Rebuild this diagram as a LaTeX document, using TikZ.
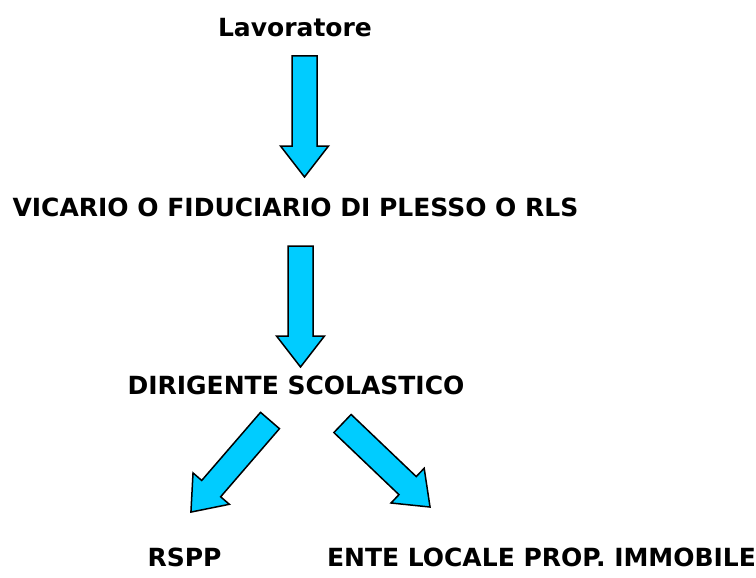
\documentclass[tikz,border=0pt]{standalone}
\usepackage{fontspec}
\setmainfont{DejaVu Sans}
\usepackage{tikz}
\usetikzlibrary{calc}

\definecolor{arrowblue}{HTML}{00CCFF}

\tikzset{
	label text/.style={font=\bfseries\fontsize{25}{28}\selectfont, inner sep=0pt},
	bigarrow/.pic={
		\draw [fill=arrowblue, line width=1.5pt, line join=miter]
		(0,-12.5) -- (90,-12.5) -- (90,-24) -- (121,0) -- (90,24) -- (90,12.5) -- (0,12.5) -- cycle;
	}
}

\newcommand{\flowarrow}[2]{%
	\path let \p1=($(#2)-(#1)$), \n1={atan2(\y1,\x1)} in (#1) pic [rotate=\n1] {bigarrow};
}

\begin{document}
\begin{tikzpicture}[x=1pt,y=-1pt]
	\useasboundingbox (0,0) rectangle (756,578);

	%Texts
	\node [label text] (lav) at (295,28) {Lavoratore};
	\node [label text] (vic) at (295.5,207.5) {VICARIO O FIDUCIARIO DI PLESSO O RLS};
	\node [label text] (dir) at (296,385) {DIRIGENTE SCOLASTICO};
	\node [label text] (rspp) at (184.5,557) {RSPP};
	\node [label text] (ente) at (541.5,557) {ENTE LOCALE PROP. IMMOBILE};

	%Start and end of the arrows
	\coordinate (lav-s) at (304.5,56);
	\coordinate (lav-e) at (304.5,177);
	\coordinate (vic-s) at (300.5,246);
	\coordinate (vic-e) at (300.5,367);
	\coordinate (rspp-s) at (270,420.5);
	\coordinate (rspp-e) at (191,512);
	\coordinate (ente-s) at (342.5,423.5);
	\coordinate (ente-e) at (430,507);

	%Arrows
	\flowarrow{lav-s}{lav-e}
	\flowarrow{vic-s}{vic-e}
	\flowarrow{rspp-s}{rspp-e}
	\flowarrow{ente-s}{ente-e}
\end{tikzpicture}
\end{document}
